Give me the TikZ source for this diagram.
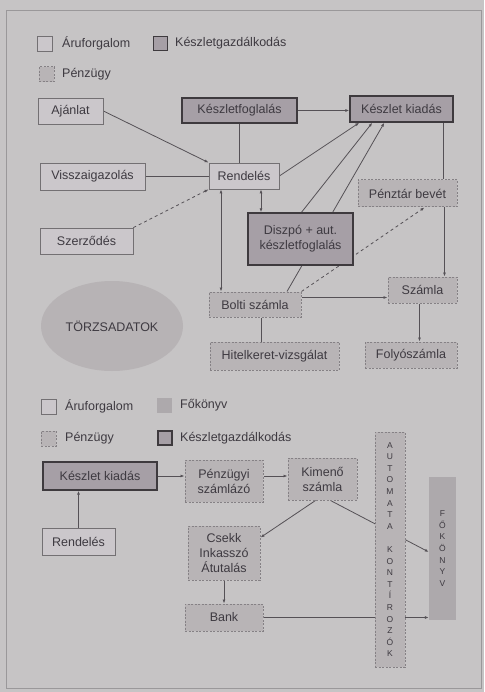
\documentclass[tikz,border=0pt]{standalone}
\usepackage{fontspec}
\setmainfont{Liberation Sans}
\usetikzlibrary{arrows.meta,shapes.geometric}

\pgfdeclarelayer{paper}
\pgfdeclarelayer{edges}
\pgfsetlayers{paper,edges,main}

\definecolor{paperColour}{HTML}{C6C4C5}
\definecolor{frameColour}{HTML}{9A989A}
\definecolor{aruFill}{HTML}{CBC7CB}
\definecolor{aruBorder}{HTML}{737073}
\definecolor{keszletFill}{HTML}{A69FA6}
\definecolor{keszletBorder}{HTML}{3E3A3E}
\definecolor{penzFill}{HTML}{B8B4B6}
\definecolor{penzBorder}{HTML}{858185}
\definecolor{fokonyvFill}{HTML}{ADA9AC}
\definecolor{torzsFill}{HTML}{B7B3B5}
\definecolor{lineColour}{HTML}{555156}
\definecolor{textColour}{HTML}{3E3A41}

\tikzset{
    box/.style={draw, align=center, inner sep=1pt, text=textColour},
    aru/.style={box, fill=aruFill, draw=aruBorder, line width=0.8pt},
    keszlet/.style={box, fill=keszletFill, draw=keszletBorder, line width=1.4pt},
    penz/.style={box, fill=penzFill, draw=penzBorder, line width=1pt, dash pattern=on 2pt off 1.5pt},
    fokonyvbox/.style={fill=fokonyvFill, align=center, inner sep=0pt, text=textColour},
    legendtext/.style={anchor=west, inner sep=0pt, text=textColour},
    conn/.style={draw=lineColour, line width=0.8pt},
    arr/.style={conn, -{Latex[length=4pt,width=3pt]}},
    darr/.style={conn, {Latex[length=4pt,width=3pt]}-{Latex[length=4pt,width=3pt]}},
    dasharr/.style={arr, dashed}
}

\begin{document}
\begin{tikzpicture}[x=1pt, y=-1pt, font=\fontsize{12.5}{15}\selectfont]
    \useasboundingbox (0,0) rectangle (484,692);

    % Paper and frame
    \begin{pgfonlayer}{paper}
        \fill[paperColour] (0,0) rectangle (484,692);
        \draw[frameColour, line width=0.8pt] (6,10) rectangle (481,688);
    \end{pgfonlayer}

    % Legend, upper part
    \node[aru, minimum size=15pt] (legAru) at (45,43.5) {};
    \node[legendtext] (legAruText) at (62,43.5) {Áruforgalom};
    \node[keszlet, minimum size=14pt] (legKeszlet) at (160.5,43.5) {};
    \node[legendtext] (legKeszletText) at (175,43.5) {Készletgazdálkodás};
    \node[penz, minimum size=15pt] (legPenz) at (46.5,74.5) {};
    \node[legendtext] (legPenzText) at (62,74.5) {Pénzügy};

    % Upper part: order handling
    \node[aru, minimum width=65pt, minimum height=26pt] (ajanlat) at (70.5,111) {Ajánlat};
    \node[keszlet, minimum width=115pt, minimum height=25pt] (foglalas) at (239.5,110.5) {Készletfoglalás};
    \node[keszlet, minimum width=103pt, minimum height=26pt] (kiadas) at (401.5,109) {Készlet kiadás};
    \node[aru, minimum width=105pt, minimum height=27pt] (vissza) at (92.5,176.5) {Visszaigazolás};
    \node[aru, minimum width=70pt, minimum height=26pt] (rendeles) at (244,176) {Rendelés};
    \node[penz, minimum width=99pt, minimum height=27pt] (penztar) at (407.5,193.5) {Pénztár bevét};
    \node[aru, minimum width=93pt, minimum height=26pt] (szerzodes) at (86.5,241) {Szerződés};
    \node[keszlet, minimum width=105pt, minimum height=52pt] (diszpo) at (300.5,239) {Diszpó + aut.\\készletfoglalás};
    \node[penz, minimum width=92pt, minimum height=25pt] (bolti) at (255,304.5) {Bolti számla};
    \node[penz, minimum width=69pt, minimum height=26pt] (szamla) at (422.5,290) {Számla};
    \node[ellipse, fill=torzsFill, text=textColour, minimum width=142pt, minimum height=90pt] (torzs) at (112,326) {TÖRZSADATOK};
    \node[penz, minimum width=129pt, minimum height=28pt] (hitel) at (274.5,356) {Hitelkeret-vizsgálat};
    \node[penz, minimum width=92pt, minimum height=26pt] (folyo) at (411,355) {Folyószámla};

    % Upper part: connectors
    \begin{pgfonlayer}{edges}
        \draw[arr] (ajanlat.east) -- (rendeles.north west);
        \draw[conn] (foglalas.south) -- (foglalas.south |- rendeles.north);
        \draw[arr] (foglalas.east) -- (foglalas.east -| kiadas.west);
        \draw[conn] (vissza.east) -- (vissza.east -| rendeles.west);
        \draw[arr] (rendeles.east) -- ([xshift=10pt]kiadas.south west);
        \draw[dasharr] (szerzodes.north east) -- (rendeles.south west);
        \draw[darr] ([xshift=-23pt]rendeles.south) -- ([xshift=-23pt]rendeles.south |- bolti.north);
        \draw[darr] ([xshift=17pt]rendeles.south) -- ([xshift=17pt]rendeles.south |- diszpo.north);
        \draw[arr] ([xshift=1pt]diszpo.north) -- ([xshift=23pt]kiadas.south west);
        \draw[arr] ([xshift=32pt]bolti.north) -- ([xshift=35pt]kiadas.south west);
        \draw[dasharr] (bolti.north east) -- ([xshift=67pt]penztar.south west);
        \draw[conn] ([xshift=-10pt]kiadas.south east) -- ([xshift=-10pt]kiadas.south east |- penztar.north);
        \draw[arr] ([xshift=-13pt]penztar.south east) -- ([xshift=-13pt]penztar.south east |- szamla.north);
        \draw[arr] ([yshift=7pt]bolti.east) -- ([yshift=7pt]bolti.east -| szamla.west);
        \draw[conn] ([xshift=6pt]bolti.south) -- ([xshift=6pt]bolti.south |- hitel.north);
        \draw[arr] ([xshift=-3pt]szamla.south) -- ([xshift=-3pt]szamla.south |- folyo.north);
    \end{pgfonlayer}

    % Legend, lower part
    \node[aru, minimum size=15pt] (legAruB) at (48.5,406.5) {};
    \node[legendtext] (legAruBText) at (65,406.5) {Áruforgalom};
    \node[fokonyvbox, minimum size=15pt] (legFokonyv) at (164.5,405.5) {};
    \node[legendtext] (legFokonyvText) at (180,405.5) {Főkönyv};
    \node[penz, minimum size=15pt] (legPenzB) at (48.5,438.5) {};
    \node[legendtext] (legPenzBText) at (65,438.5) {Pénzügy};
    \node[keszlet, minimum size=14pt] (legKeszletB) at (165,438) {};
    \node[legendtext] (legKeszletBText) at (180,438) {Készletgazdálkodás};

    % Lower part: invoicing and booking
    \node[keszlet, minimum width=114pt, minimum height=28pt] (kiadasB) at (100,476) {Készlet kiadás};
    \node[penz, minimum width=78pt, minimum height=42pt] (szamlazo) at (224,481) {Pénzügyi\\számlázó};
    \node[penz, minimum width=69pt, minimum height=42pt] (kimeno) at (322.5,479) {Kimenő\\számla};
    \node[penz, minimum width=30pt, minimum height=235pt, font=\fontsize{8.5}{11.6}\selectfont] (automata) at (390,549.5)
        {A\\U\\T\\O\\M\\A\\T\\A\\~\\K\\O\\N\\T\\Í\\R\\O\\Z\\Ó\\K};
    \node[fokonyvbox, minimum width=27pt, minimum height=143pt, font=\fontsize{8.5}{11.7}\selectfont] (fokonyv) at (442.5,548.5)
        {F\\Ő\\K\\Ö\\N\\Y\\V};
    \node[aru, minimum width=73pt, minimum height=27pt] (rendelesB) at (78.5,541.5) {Rendelés};
    \node[penz, minimum width=72pt, minimum height=54pt] (csekk) at (224,553) {Csekk\\Inkasszó\\Átutalás};
    \node[penz, minimum width=78pt, minimum height=27pt] (bank) at (224,617.5) {Bank};

    % Lower part: connectors
    \begin{pgfonlayer}{edges}
        \draw[arr] (rendelesB.north) -- (rendelesB.north |- kiadasB.south);
        \draw[arr] (kiadasB.east) -- (kiadasB.east -| szamlazo.west);
        \draw[arr] ([yshift=5pt]szamlazo.east) -- ([yshift=5pt]szamlazo.east -| kimeno.west);
        \draw[arr] ([xshift=-7pt]kimeno.south) -- ([yshift=-12pt]csekk.north east);
        \draw[arr] ([xshift=8pt]kimeno.south) -- ([yshift=-3.5pt]fokonyv.west);
        \draw[arr] (csekk.south) -- (bank.north);
        \draw[arr] (bank.east) -- (bank.east -| fokonyv.west);
    \end{pgfonlayer}

\end{tikzpicture}
\end{document}
